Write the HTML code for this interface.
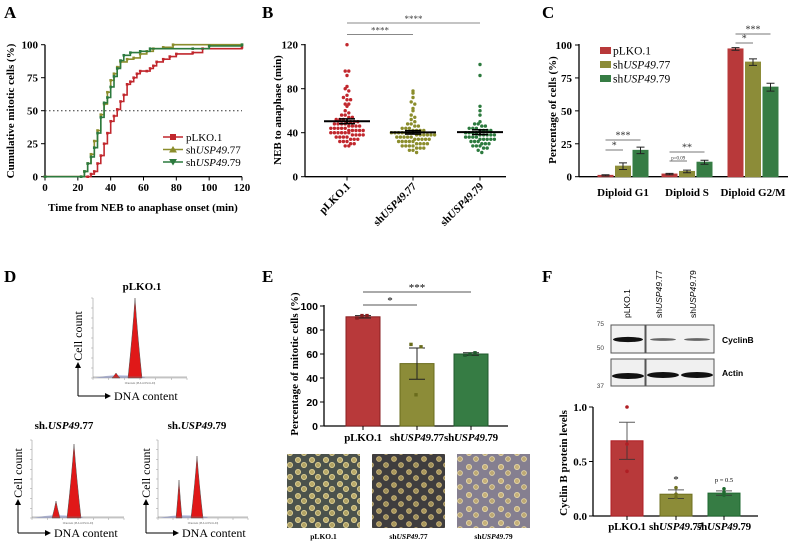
<!DOCTYPE html>
<html><head><meta charset="utf-8">
<style>
html,body{margin:0;padding:0;background:#fff;}
svg{display:block;font-family:"Liberation Serif",serif;}
.t{font-weight:bold;font-size:11px;}
.s{font-family:"Liberation Sans",sans-serif;}
</style></head>
<body>
<svg id="fig" width="788" height="541" viewBox="0 0 788 541">
<defs>
<pattern id="cellsA" width="14" height="12" patternUnits="userSpaceOnUse">
<rect width="14" height="12" fill="#4b524c"/><circle cx="4" cy="4" r="2.6" fill="#b9aa6a" stroke="#e6d79a" stroke-width="0.8"/><circle cx="10" cy="9" r="2.6" fill="#b0a264" stroke="#e6d79a" stroke-width="0.8"/></pattern>
<pattern id="cellsB" width="15" height="13" patternUnits="userSpaceOnUse">
<rect width="15" height="13" fill="#3f3d3e"/><circle cx="4" cy="4" r="2.4" fill="#a8965c" stroke="#d8c080" stroke-width="0.8"/><circle cx="11" cy="10" r="2.4" fill="#9e8e58" stroke="#d8c080" stroke-width="0.8"/></pattern>
<pattern id="cellsC" width="16" height="14" patternUnits="userSpaceOnUse">
<rect width="16" height="14" fill="#857f90"/><circle cx="5" cy="5" r="2.6" fill="#c6b07a" stroke="#eadcaa" stroke-width="0.8"/><circle cx="12" cy="11" r="2.4" fill="#bda874" stroke="#eadcaa" stroke-width="0.8"/></pattern>
<marker id="arr" markerWidth="6" markerHeight="6" refX="5" refY="3" orient="auto"><path d="M0,0 L6,3 L0,6 Z" fill="#000"/></marker>
</defs>
</svg>
<script>
// ---------- data ----------
const timesRed=[0,26,28,30,32,34,36,38,40,42,44,46,48,50,52,54,56,58,62,64,66,68,72,76,80,90,96,120];
const cumRed=[0,0,2,4,10,16,25,33,42,46,51,57,62,70,72,75,78,80,80,82,84,87,89,91,93,94,97,98];
const times77=[0,22,24,26,28,30,32,34,36,38,40,42,44,46,50,54,58,62,66,72,78,120];
const cum77=[0,0,4,10,17,27,35,47,55,64,73,78,83,87,89,90,93,95,97,98,100,100];
const times79=[0,22,24,26,28,30,32,34,36,38,40,42,44,46,48,52,58,64,90,100,120];
const cum79=[0,0,4,10,15,22,33,45,56,60,68,76,82,88,92,94,95,97,97,99,100];
const xTicksA=[0,20,40,60,80,100,120];
const yTicksA=[0,25,50,75,100];

const bGroups=["pLKO.1","shUSP49.77","shUSP49.79"];
const bRed=[120,96,96,92,82,80,78,74,72,70,70,66,66,64,60,58,56,56,54,54,52,52,52,50,50,50,50,48,48,48,48,46,46,46,46,44,44,44,44,44,42,42,42,42,42,40,40,40,40,40,40,38,38,38,38,36,36,36,36,34,34,34,32,32,32,30,30,28,28];
const b77=[78,76,72,68,66,62,60,56,54,52,50,48,48,46,46,44,44,44,42,42,42,42,40,40,40,40,40,40,40,38,38,38,38,38,38,36,36,36,36,36,34,34,34,34,34,32,32,32,32,32,30,30,30,30,28,28,28,28,26,26,26,24,24,22];
const b79=[102,92,64,60,56,50,48,48,46,46,44,44,44,42,42,42,42,40,40,40,40,38,38,38,38,38,36,36,36,36,34,34,34,34,34,32,32,32,30,30,30,28,28,28,26,26,24,22];
const yTicksB=[0,40,80,120];

const cCats=["Diploid G1","Diploid S","Diploid G2/M"];
const cRed=[1,2,97];
const c77=[8,4,87];
const c79=[20,11,68];
const cErr77=[2.5,1,2.5];
const cErr79=[2.5,1.5,3];
const cErrRed=[0.5,0.5,1];
const yTicksC=[0,25,50,75,100];

const eCats=["pLKO.1","shUSP49.77","shUSP49.79"];
const eVals=[91,52,60];
const eErr=[1,13,1];
const ePts=[[90,92,92],[68,26,66],[59,60,61]];
const yTicksE=[0,20,40,60,80,100];

const fVals=[0.69,0.20,0.21];
const fErr=[0.17,0.04,0.02];
const fPts=[[1.0,0.66,0.41],[0.26,0.17,0.2],[0.25,0.19,0.22]];
const yTicksF=[0,0.5,1.0];

const RED="#c1272d", OLV="#8b8d2c", GRN="#2c7a3e";
const BRED="#b8393a", BOLV="#8c8c38", BGRN="#367c44";

// ---------- helpers ----------
const svg=document.getElementById('fig');
const NS="http://www.w3.org/2000/svg";
function mk(tag,attrs,parent){const e=document.createElementNS(NS,tag);for(const k in attrs)e.setAttribute(k,attrs[k]);(parent||svg).appendChild(e);return e;}
function txt(x,y,s,attrs,parent){const e=mk('text',Object.assign({x:x,y:y},attrs||{}),parent);e.innerHTML=s;return e;}
function grp(name){const g=mk('g',{});return g;}

// panel letters
[["A",4,18],["B",262,18],["C",542,18],["D",4,282],["E",262,282],["F",542,282]].forEach(p=>{
  const t=txt(p[1],p[2],p[0],{'font-size':17,'font-weight':'bold'});
  
  
});

// ---------- Panel A ----------
(function(){
const g=grp('panel-a-cumulative-chart');
const xA=t=>45+t*197/120, yA=v=>176.7-v*1.32;
mk('line',{x1:45,y1:176.7,x2:242,y2:176.7,stroke:'#000','stroke-width':1.3},g);
mk('line',{x1:45,y1:44.7,x2:45,y2:176.7,stroke:'#000','stroke-width':1.3},g);
xTicksA.forEach(v=>{mk('line',{x1:xA(v),y1:176.7,x2:xA(v),y2:180.5,stroke:'#000'},g);
  const t=txt(xA(v),191,v,{'text-anchor':'middle',class:'t'},g);});
yTicksA.forEach(v=>{mk('line',{x1:41,y1:yA(v),x2:45,y2:yA(v),stroke:'#000'},g);
  const t=txt(38,yA(v)+4,v,{'text-anchor':'end',class:'t'},g);});
mk('line',{x1:45,y1:yA(50),x2:242,y2:yA(50),stroke:'#333','stroke-dasharray':'1.5,2.5'},g);
let t=txt(143,211,'Time from NEB to anaphase onset (min)',{'text-anchor':'middle',class:'t'},g);

t=txt(0,0,'Cumulative mitotic cells (%)',{'text-anchor':'middle',class:'t','font-size':10.5,transform:'translate(14,111) rotate(-90)'},g);

const series=[[timesRed,cumRed,RED,'sq','line-plko'],[times77,cum77,OLV,'tri','line-usp49-77'],[times79,cum79,GRN,'itri','line-usp49-79']];
series.forEach(s=>{
  let d='';s[0].forEach((tt,i)=>{d+=(i?' H':'M')+xA(tt).toFixed(1)+(i?' V':',')+yA(s[1][i]).toFixed(1);});
  const p=mk('path',{d:d,fill:'none',stroke:s[2],'stroke-width':1.6},g);
  
  s[0].forEach((tt,i)=>{const x=xA(tt),y=yA(s[1][i]);
    const m=mk('rect',{x:x-1.3,y:y-1.3,width:2.6,height:2.6,fill:s[2]},g);
    });
});
const leg=[['pLKO.1',RED,0],['sh<tspan font-style="italic">USP49</tspan>.77',OLV,1],['sh<tspan font-style="italic">USP49</tspan>.79',GRN,2]];
leg.forEach((l,i)=>{const y=137+i*12.5;
  const lg=grp('legend-entry');g.appendChild(lg);
  mk('line',{x1:163,y1:y,x2:183,y2:y,stroke:l[1],'stroke-width':1.6},lg);
  if(i==0)mk('rect',{x:170,y:y-3,width:6,height:6,fill:l[1]},lg);
  else if(i==1)mk('path',{d:`M173,${y-3.5} L177,${y+3} L169,${y+3} Z`,fill:l[1]},lg);
  else mk('path',{d:`M173,${y+3.5} L177,${y-3} L169,${y-3} Z`,fill:l[1]},lg);
  txt(186,y+4,l[0],{'font-size':11},lg);
});
})();

// ---------- Panel B ----------
(function(){
const g=grp('panel-b-scatter-chart');
const yB=v=>176.7-v*1.1;
const cx=[347,413,480];
mk('line',{x1:305,y1:176.7,x2:506,y2:176.7,stroke:'#000','stroke-width':1.3},g);
mk('line',{x1:305,y1:44,x2:305,y2:176.7,stroke:'#000','stroke-width':1.3},g);
yTicksB.forEach(v=>{mk('line',{x1:301,y1:yB(v),x2:305,y2:yB(v),stroke:'#000'},g);
  const t=txt(298,yB(v)+4,v,{'text-anchor':'end',class:'t','font-size':12},g);});
let t=txt(0,0,'NEB to anaphase (min)',{'text-anchor':'middle',class:'t',transform:'translate(281,110) rotate(-90)'},g);

const labels=['pLKO.1','sh<tspan font-style="italic">USP49</tspan>.77','sh<tspan font-style="italic">USP49</tspan>.79'];
cx.forEach((x,i)=>{mk('line',{x1:x,y1:176.7,x2:x,y2:180.5,stroke:'#000'},g);
  const t=txt(0,0,labels[i],{'text-anchor':'end',class:'t',transform:`translate(${x+4},187) rotate(-45)`},g);
  });
const data=[bRed,b77,b79], cols=[RED,OLV,GRN];
data.forEach((arr,gi)=>{
  const bin=v=>Math.round(v/4)*4;
  const counts={};arr.forEach(v=>{const b=bin(v);counts[b]=(counts[b]||0)+1;});
  const seen={};
  arr.forEach(v=>{const b=bin(v);const n=counts[b];const k=seen[b]=(seen[b]||0)+1;
    const x=cx[gi]+((k-1)-(n-1)/2)*3.6;
    const c=mk('circle',{cx:x,cy:yB(v),r:1.7,fill:cols[gi]},g);
    });
  const mean=arr.reduce((a,b)=>a+b,0)/arr.length;
  const sd=Math.sqrt(arr.reduce((a,b)=>a+(b-mean)**2,0)/(arr.length-1));const se=sd/Math.sqrt(arr.length);
  const ml=mk('line',{x1:cx[gi]-23,y1:yB(mean),x2:cx[gi]+23,y2:yB(mean),stroke:'#000','stroke-width':2},g);
  
  mk('line',{x1:cx[gi],y1:yB(mean+se),x2:cx[gi],y2:yB(mean-se),stroke:'#000','stroke-width':1.5},g);
  mk('line',{x1:cx[gi]-8,y1:yB(mean+se),x2:cx[gi]+8,y2:yB(mean+se),stroke:'#000','stroke-width':1.5},g);
  mk('line',{x1:cx[gi]-8,y1:yB(mean-se),x2:cx[gi]+8,y2:yB(mean-se),stroke:'#000','stroke-width':1.5},g);
});
[[347,480,23,'****'],[347,413,34.5,'****']].forEach(s=>{
  const sg=grp('significance-bar');g.appendChild(sg);
  mk('line',{x1:s[0],y1:s[2],x2:s[1],y2:s[2],stroke:'#888','stroke-width':1},sg);
  txt((s[0]+s[1])/2,s[2]-1,s[3],{'text-anchor':'middle','font-size':9,fill:'#444'},sg);});
})();

// ---------- Panel C ----------
(function(){
const g=grp('panel-c-bar-chart');
const yC=v=>176.7-v*1.317;
const gx=[623,687,753];
mk('line',{x1:579,y1:176.7,x2:788,y2:176.7,stroke:'#000','stroke-width':1.3},g);
mk('line',{x1:579,y1:44,x2:579,y2:176.7,stroke:'#000','stroke-width':1.3},g);
yTicksC.forEach(v=>{mk('line',{x1:575,y1:yC(v),x2:579,y2:yC(v),stroke:'#000'},g);
  const t=txt(572,yC(v)+4,v,{'text-anchor':'end',class:'t','font-size':12},g);});
let t=txt(0,0,'Percentage of cells (%)',{'text-anchor':'middle',class:'t','font-size':12,transform:'translate(556,110) rotate(-90)'},g);

const sets=[[cRed,cErrRed,BRED,-17.5],[c77,cErr77,BOLV,0],[c79,cErr79,BGRN,17.5]];
cCats.forEach((c,i)=>{
  const t=txt(gx[i],196,c,{'text-anchor':'middle',class:'t','font-size':11.5},g);
  sets.forEach(s=>{const x=gx[i]+s[3];const v=s[0][i];
    const b=mk('rect',{x:x-7.5,y:yC(v),width:15,height:176.7-yC(v),fill:s[2],stroke:s[2]},g);
    
    const e=s[1][i];
    mk('path',{d:`M${x},${yC(v+e)} V${yC(v-e)} M${x-4},${yC(v+e)} H${x+4} M${x-4},${yC(v-e)} H${x+4}`,stroke:'#222','stroke-width':1,fill:'none'},g);
  });
});
[[605.5,623,150,'*'],[605.5,640.5,140,'***'],[669.5,704.5,152,'**'],[669.5,687,161,'p=0.09'],[735.5,753,43,'*'],[735.5,770.5,34,'***']].forEach(s=>{
  const sg=grp('significance-bar');g.appendChild(sg);
  mk('line',{x1:s[0],y1:s[2],x2:s[1],y2:s[2],stroke:'#777'},sg);
  txt((s[0]+s[1])/2,s[2]-1.5,s[3],{'text-anchor':'middle','font-size':s[3][0]=='p'?5:10,fill:'#333'},sg);});
const leg=[['pLKO.1',BRED],['sh<tspan font-style="italic">USP49</tspan>.77',BOLV],['sh<tspan font-style="italic">USP49</tspan>.79',BGRN]];
leg.forEach((l,i)=>{const y=51+i*14;const lg=grp('legend-entry');g.appendChild(lg);
  mk('rect',{x:600,y:y-4,width:11,height:7,fill:l[1]},lg);
  txt(613,y+3.5,l[0],{'font-size':11.5},lg);});
})();

// ---------- Panel D ----------
(function(){
const g=grp('panel-d-flow-histograms');
function hist(ox,oy,w,h,peaks,title,tx,ty,name){
  const hg=grp(name);g.appendChild(hg);
  txt(tx,ty,title,{'text-anchor':'middle',class:'t','font-size':12.5},hg);
  mk('line',{x1:ox,y1:oy,x2:ox+w,y2:oy,stroke:'#999','stroke-width':0.6},hg);
  mk('line',{x1:ox,y1:oy,x2:ox,y2:oy-h,stroke:'#999','stroke-width':0.6},hg);
  for(let i=0;i<=6;i++)mk('line',{x1:ox+i*w/6,y1:oy,x2:ox+i*w/6,y2:oy+2,stroke:'#999','stroke-width':0.5},hg);
  for(let i=0;i<=8;i++)mk('line',{x1:ox-2,y1:oy-i*h/8,x2:ox,y2:oy-i*h/8,stroke:'#999','stroke-width':0.5},hg);
  mk('path',{d:`M${ox+2},${oy} Q${ox+20},${oy-5} ${ox+w*0.55},${oy-1} L${ox+w*0.55},${oy} Z`,fill:'#9aa4d8',opacity:0.7},hg);
  peaks.forEach(p=>{mk('path',{d:`M${ox+p[0]-p[2]},${oy} Q${ox+p[0]-p[2]*0.35},${oy-p[1]*0.55} ${ox+p[0]},${oy-p[1]} Q${ox+p[0]+p[2]*0.35},${oy-p[1]*0.55} ${ox+p[0]+p[2]},${oy} Z`,fill:'#e01818',stroke:'#555','stroke-width':0.5},hg);});
  mk('path',{d:`M${ox},${oy-1} L${ox+w},${oy-1}`,stroke:'#777','stroke-width':0.5},hg);
  txt(ox+w/2,oy+6,'Channels (PL3-A=PL3-LIN)',{'text-anchor':'middle','font-size':2.5,fill:'#666',class:'s'},hg);
  return hg;}
function axes(x0,y0,len,name){
  const ag=grp(name);g.appendChild(ag);
  mk('path',{d:`M${x0},${y0} V${y0-len}`,stroke:'#000','stroke-width':1,'marker-end':'url(#arr)'},ag);
  mk('path',{d:`M${x0},${y0} H${x0+32}`,stroke:'#000','stroke-width':1,'marker-end':'url(#arr)'},ag);
  txt(x0+36,y0+4,'DNA content',{'font-size':12},ag);
  txt(0,0,'Cell count',{'font-size':12,transform:`translate(${x0+4},${y0-len-27}) rotate(-90)`,'text-anchor':'middle'},ag);
}
hist(93,378,94,80,[[23,5,4],[42,80,7]],'pLKO.1',142,290,'histogram-plko');
axes(78,396,33,'axes-plko');
hist(32,518,92,78,[[24,17,4],[42,74,7]],'sh.<tspan font-style="italic">USP49</tspan>.77',64,429,'histogram-usp49-77');
axes(18,533,33,'axes-usp49-77');
hist(158,518,90,78,[[21,38,3],[39,62,6]],'sh.<tspan font-style="italic">USP49</tspan>.79',197,429,'histogram-usp49-79');
axes(146,533,33,'axes-usp49-79');
})();

// ---------- Panel E ----------
(function(){
const g=grp('panel-e-bar-chart');
const yE=v=>426-v*1.2;
const cx=[363,417,471];
mk('line',{x1:324,y1:426,x2:508,y2:426,stroke:'#000','stroke-width':1.3},g);
mk('line',{x1:324,y1:305,x2:324,y2:426,stroke:'#000','stroke-width':1.3},g);
yTicksE.forEach(v=>{mk('line',{x1:320,y1:yE(v),x2:324,y2:yE(v),stroke:'#000'},g);
  const t=txt(318,yE(v)+4,v,{'text-anchor':'end','font-size':10.5,class:'s','font-weight':'bold'},g);});
let t=txt(0,0,'Percentage of mitotic cells (%)',{'text-anchor':'middle',class:'t',transform:'translate(298,364) rotate(-90)'},g);

const cols=[BRED,BOLV,BGRN],dark=['#8a1e20','#6a6c1c','#1f5a2c'];
const labs=['pLKO.1','sh<tspan font-style="italic">USP49</tspan>.77','sh<tspan font-style="italic">USP49</tspan>.79'];
eVals.forEach((v,i)=>{const x=cx[i];
  const b=mk('rect',{x:x-17,y:yE(v),width:34,height:426-yE(v),fill:cols[i],stroke:dark[i]},g);
  
  mk('line',{x1:x,y1:426,x2:x,y2:430,stroke:'#000'},g);
  const e=eErr[i];
  mk('path',{d:`M${x},${yE(v+e)} V${yE(v-e)} M${x-8},${yE(v+e)} H${x+8} M${x-8},${yE(v-e)} H${x+8}`,stroke:'#222',fill:'none'},g);
  ePts[i].forEach((p,j)=>{const d=mk('rect',{x:x-6+j*5-1.7,y:yE(p)-1.7,width:3.4,height:3.4,fill:dark[i]},g);
    });
  const t=txt(x,441,labs[i],{'text-anchor':'middle',class:'t','font-size':9,'letter-spacing':'-0.2'},g);
});
[[363,471,292,'***'],[363,417,305,'*']].forEach(s=>{const sg=grp('significance-bar');g.appendChild(sg);
  mk('line',{x1:s[0],y1:s[2],x2:s[1],y2:s[2],stroke:'#555'},sg);
  txt((s[0]+s[1])/2,s[2]-1,s[3],{'text-anchor':'middle','font-size':11},sg);});
[[287,'url(#cellsA)','pLKO.1'],[372,'url(#cellsB)','sh<tspan font-style="italic">USP49</tspan>.77'],[457,'url(#cellsC)','sh<tspan font-style="italic">USP49</tspan>.79']].forEach((p,i)=>{
  const r=mk('rect',{x:p[0],y:454,width:73,height:74,fill:p[1]},g);
  
  const t=txt(p[0]+36.5,539,p[2],{'text-anchor':'middle','font-size':7.5,'font-weight':'bold'},g);
  });
})();

// ---------- Panel F ----------
(function(){
const g=grp('panel-f-western-blot');
const bl=grp('blot');g.appendChild(bl);
[['pLKO.1',630],['sh<tspan font-style="italic">USP49</tspan>.77',662],['sh<tspan font-style="italic">USP49</tspan>.79',696]].forEach(l=>{
  txt(0,0,l[0],{'font-size':8.5,class:'s',transform:`translate(${l[1]},318) rotate(-90)`},bl);});
mk('rect',{x:611,y:325,width:34,height:28,fill:'#f2f2f2',stroke:'#555'},bl);
mk('rect',{x:646,y:325,width:68,height:28,fill:'#f2f2f2',stroke:'#555'},bl);
mk('rect',{x:611,y:359,width:34,height:27,fill:'#f0f0f0',stroke:'#555'},bl);
mk('rect',{x:646,y:359,width:68,height:27,fill:'#f0f0f0',stroke:'#555'},bl);
mk('ellipse',{cx:628,cy:339.5,rx:15,ry:2.6,fill:'#111'},bl);
mk('ellipse',{cx:663,cy:339.5,rx:13,ry:1.4,fill:'#666'},bl);
mk('ellipse',{cx:697,cy:339.5,rx:13,ry:1.4,fill:'#666'},bl);
mk('ellipse',{cx:628,cy:376,rx:16,ry:3,fill:'#111'},bl);
mk('ellipse',{cx:663,cy:375,rx:16,ry:3,fill:'#111'},bl);
mk('ellipse',{cx:697,cy:375,rx:16,ry:3,fill:'#111'},bl);
[['75',326],['50',350],['37',388]].forEach(m=>txt(604,m[1],m[0],{'font-size':6.5,class:'s','text-anchor':'end',fill:'#444'},bl));
txt(722,343,'CyclinB',{'font-size':8.5,class:'s','font-weight':'bold'},bl);
txt(722,376,'Actin',{'font-size':8.5,class:'s','font-weight':'bold'},bl);

const yF=v=>516-v*109;
const cx=[627,676,724];
mk('line',{x1:593,y1:516,x2:758,y2:516,stroke:'#000','stroke-width':1.3},g);
mk('line',{x1:593,y1:407,x2:593,y2:516,stroke:'#000','stroke-width':1.3},g);
yTicksF.forEach(v=>{mk('line',{x1:589,y1:yF(v),x2:593,y2:yF(v),stroke:'#000'},g);
  const t=txt(587,yF(v)+4,v.toFixed(1),{'text-anchor':'end',class:'t','font-size':10.5},g);});
let t=txt(0,0,'Cyclin B protein levels',{'text-anchor':'middle',class:'t','font-size':10,transform:'translate(567,463) rotate(-90)'},g);

const cols=[BRED,BOLV,BGRN],dark=['#b01e24','#6f7020','#1f6a30'];
const labs=['pLKO.1','sh<tspan font-style="italic">USP49</tspan>.77','sh<tspan font-style="italic">USP49</tspan>.79'];
fVals.forEach((v,i)=>{const x=cx[i];
  const b=mk('rect',{x:x-16,y:yF(v),width:32,height:516-yF(v),fill:cols[i],stroke:dark[i]},g);
  
  mk('line',{x1:x,y1:516,x2:x,y2:520,stroke:'#000'},g);
  const e=fErr[i];
  mk('path',{d:`M${x},${yF(v+e)} V${yF(v-e)} M${x-8},${yF(v+e)} H${x+8} M${x-8},${yF(v-e)} H${x+8}`,stroke:'#333',fill:'none','stroke-opacity':0.8},g);
  fPts[i].forEach(p=>{const d=mk('circle',{cx:x,cy:yF(p),r:1.8,fill:dark[i]},g);
    });
  const t=txt(x,530,labs[i],{'text-anchor':'middle',class:'t','font-size':7.8,'letter-spacing':'-0.2'},g);
});
txt(676,483,'*',{'text-anchor':'middle','font-size':11},g);
txt(724,482,'p = 0.5',{'text-anchor':'middle','font-size':6.5},g);
})();
</script>
</body></html>
